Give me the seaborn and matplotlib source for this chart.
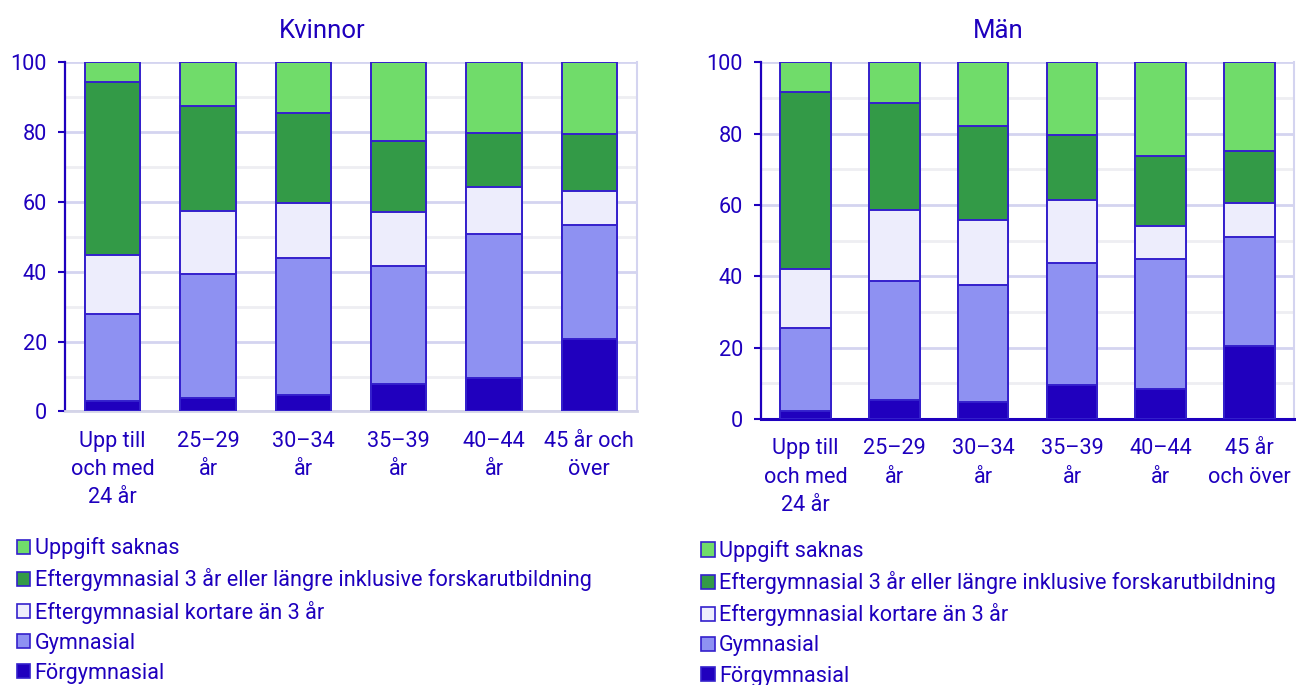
import matplotlib
matplotlib.use("Agg")
import matplotlib.pyplot as plt
from matplotlib.patches import Patch
from matplotlib.ticker import MultipleLocator
import numpy as np
import pandas as pd
import seaborn as sns

# Utbildningsnivå per åldersgrupp (procent)
serier = ["Förgymnasial", "Gymnasial", "Eftergymnasial kortare än 3 år",
          "Eftergymnasial 3 år eller längre inklusive forskarutbildning",
          "Uppgift saknas"]
farger = ["#2000BE", "#8E91F2", "#EDEDFC", "#339A47", "#70DC6A"]

kat_kvinnor = ["Upp till\noch med\n24 år", "25–29\når", "30–34\når",
               "35–39\når", "40–44\når", "45 år och\növer"]
kat_man = ["Upp till\noch med\n24 år", "25–29\når", "30–34\når",
           "35–39\når", "40–44\når", "45 år\noch över"]

kvinnor_forgym = [3.0, 4.0, 4.8, 7.9, 9.7, 20.7]
kvinnor_gym = [24.8, 35.3, 39.1, 33.8, 41.0, 32.7]
kvinnor_kort = [17.1, 18.0, 15.8, 15.5, 13.4, 9.7]
kvinnor_lang = [49.4, 30.0, 25.8, 20.1, 15.6, 16.3]
kvinnor_saknas = [5.7, 12.7, 14.5, 22.7, 20.3, 20.6]

man_forgym = [2.3, 5.3, 4.9, 9.5, 8.4, 20.6]
man_gym = [23.1, 33.5, 32.8, 34.2, 36.5, 30.3]
man_kort = [16.7, 19.8, 18.2, 17.6, 9.2, 9.7]
man_lang = [49.6, 29.9, 26.2, 18.2, 19.6, 14.5]
man_saknas = [8.3, 11.5, 17.9, 20.5, 26.3, 24.9]

TEXT = "#1E00BE"
KANT = "#3420CC"
FS = 15.6

plt.rcParams["font.family"] = ["Roboto", "DejaVu Sans"]


def rita(ax, kategorier, lager, bredd):
    df = pd.DataFrame(dict(zip(serier, lager)))
    df["kat"] = kategorier
    kum = df[serier].cumsum(axis=1)
    # staplarna ritas uppifrån och ned så att de lägre lagren hamnar överst
    for namn, farg in reversed(list(zip(serier, farger))):
        sns.barplot(x=df["kat"], y=kum[namn], color=farg, saturation=1,
                    width=bredd, edgecolor=KANT, linewidth=1.4, ax=ax,
                    zorder=3)
    ax.set_ylim(0, 100)
    ax.set_xlabel("")
    ax.set_ylabel("")
    ax.yaxis.set_major_locator(MultipleLocator(20))
    ax.yaxis.set_minor_locator(MultipleLocator(10))
    ax.grid(axis="y", which="major", color="#D4D4F0", linewidth=2, zorder=0)
    ax.grid(axis="y", which="minor", color="#EEEEF2", linewidth=2, zorder=0)
    ax.set_axisbelow(True)
    ax.tick_params(axis="y", which="major", colors=TEXT, labelsize=FS,
                   length=5, width=1.5, pad=8)
    ax.tick_params(axis="y", which="minor", length=0)
    ax.tick_params(axis="x", colors=TEXT, labelsize=FS, length=0, pad=14)
    for lbl in ax.get_xticklabels():
        lbl.set_linespacing(1.45)
    ax.spines["left"].set_color(TEXT)
    ax.spines["left"].set_linewidth(1.6)
    ax.spines["top"].set_visible(False)
    ax.spines["right"].set_color("#D4D4F0")
    ax.spines["right"].set_linewidth(1.5)


fig = plt.figure(figsize=(12.96, 6.85), dpi=100)
ax1 = fig.add_axes([0.0502, 0.3993, 0.4413, 0.5102])
ax2 = fig.add_axes([0.5872, 0.3883, 0.4113, 0.5208])

rita(ax1, kat_kvinnor,
     [kvinnor_forgym, kvinnor_gym, kvinnor_kort, kvinnor_lang, kvinnor_saknas], 0.58)
ax1.spines["bottom"].set_color("#D4D4E8")
ax1.spines["bottom"].set_linewidth(2)

rita(ax2, kat_man,
     [man_forgym, man_gym, man_kort, man_lang, man_saknas], 0.57)
ax2.spines["bottom"].set_color(TEXT)
ax2.spines["bottom"].set_linewidth(2.2)

fig.text(0.2485, 0.955, "Kvinnor", ha="center", va="center",
         color=TEXT, fontsize=18.5)
fig.text(0.770, 0.955, "Män", ha="center", va="center",
         color=TEXT, fontsize=18.5)

handtag = [Patch(facecolor=f, edgecolor=KANT, linewidth=1.2, label=s)
           for s, f in zip(serier, farger)][::-1]

for xpos, ypos in [(0.008, 0.225), (0.536, 0.221)]:
    fig.legend(handles=handtag, loc="upper left", bbox_to_anchor=(xpos, ypos),
               frameon=False, fontsize=FS, labelcolor=TEXT,
               handlelength=0.62, handleheight=0.62, handletextpad=0.2,
               labelspacing=0.42, borderaxespad=0, borderpad=0.3)

fig.savefig("out.png", dpi=100)
